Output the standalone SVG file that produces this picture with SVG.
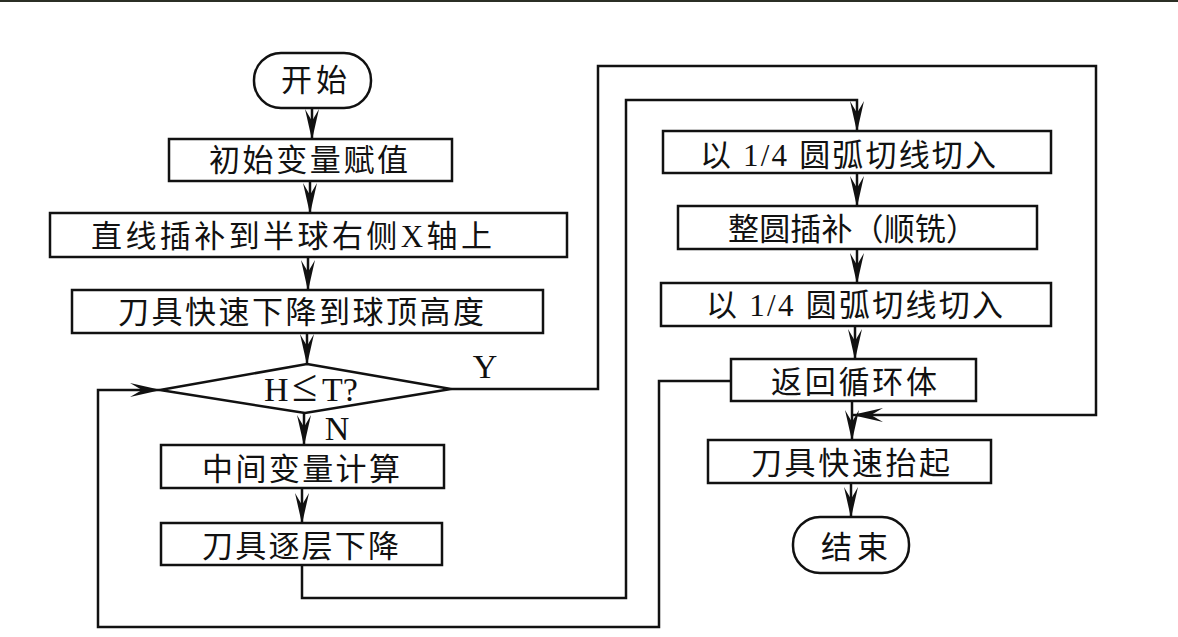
<svg xmlns="http://www.w3.org/2000/svg" width="1178" height="637" viewBox="0 0 1178 637">
<style>
.box{fill:#fff;stroke:#111;stroke-width:2.5}
.t{font-family:"Liberation Serif","Noto Sans CJK SC",serif;font-size:31px;fill:#111}
.l{font-family:"Liberation Serif",serif;font-size:34px;fill:#111}
.c{fill:none;stroke:#111;stroke-width:2.5;marker-end:url(#ah)}
</style>
<defs>
<marker id="ah" markerUnits="userSpaceOnUse" viewBox="-32 -8 34 16" markerWidth="34" markerHeight="16" refX="0" refY="0" orient="auto">
<path d="M1,0 L-30,-7 L-18,0 L-30,7 Z" fill="#111"/>
</marker>
</defs>
<rect x="0" y="0" width="1178" height="637" fill="#fff"/>
<rect x="0" y="0" width="1178" height="2" fill="#2b2f25"/>
<g id="connectors">
<path class="c" d="M312,107 V139"/>
<path class="c" d="M310,181 V213"/>
<path class="c" d="M308,257 V290"/>
<path class="c" d="M307,333 V364"/>
<path class="c" d="M304,413 V445"/>
<path class="c" d="M302,488 V523"/>
<path class="c" d="M302,565 V598 H626 V100 H857 V131"/>
<path class="c" d="M451,389 H598 V66 H1096 V415 H853"/>
<path class="c" d="M731,381 H659 V627 H98 V390 H160"/>
<path class="c" d="M857,173 V206"/>
<path class="c" d="M857,249 V283"/>
<path class="c" d="M855,326 V359"/>
<path class="c" d="M852,401 V440"/>
<path class="c" d="M851,483 V517"/>
</g>
<g id="start"><rect class="box" x="254" y="53" width="117" height="55" rx="27"/><text class="t" x="281" y="91" textLength="66" lengthAdjust="spacing">开始</text></g>
<g id="n1"><rect class="box" x="169" y="139" width="283" height="42"/><text class="t" x="209" y="171" textLength="199" lengthAdjust="spacing">初始变量赋值</text></g>
<g id="n2"><rect class="box" x="50" y="213" width="517" height="44"/><text class="t" x="91" y="247" textLength="401" lengthAdjust="spacing">直线插补到半球右侧X轴上</text></g>
<g id="n3"><rect class="box" x="72" y="290" width="471" height="43"/><text class="t" x="118" y="323" textLength="366" lengthAdjust="spacing">刀具快速下降到球顶高度</text></g>
<g id="d1"><polygon class="box" points="307,364 451,389 305,413 160,390"/><text class="l" x="264" y="401">H<tspan x="292" font-size="46">≤</tspan><tspan x="322">T?</tspan></text></g>
<text class="l" x="485" y="378" text-anchor="middle">Y</text>
<text class="l" x="337" y="440" text-anchor="middle">N</text>
<g id="n4"><rect class="box" x="161" y="445" width="283" height="43"/><text class="t" x="202" y="480" textLength="198" lengthAdjust="spacing">中间变量计算</text></g>
<g id="n5"><rect class="box" x="161" y="523" width="281" height="42"/><text class="t" x="202" y="557" textLength="197" lengthAdjust="spacing">刀具逐层下降</text></g>
<g id="n6"><rect class="box" x="663" y="131" width="388" height="42"/><text class="t" x="700" y="166" textLength="296" lengthAdjust="spacing">以 1/4 圆弧切线切入</text></g>
<g id="n7"><rect class="box" x="678" y="206" width="359" height="43"/><text class="t" x="728" y="240" textLength="249" lengthAdjust="spacing">整圆插补（顺铣）</text></g>
<g id="n8"><rect class="box" x="661" y="283" width="390" height="43"/><text class="t" x="706" y="316" textLength="297" lengthAdjust="spacing">以 1/4 圆弧切线切入</text></g>
<g id="n9"><rect class="box" x="731" y="359" width="245" height="42"/><text class="t" x="771" y="393" textLength="166" lengthAdjust="spacing">返回循环体</text></g>
<g id="n10"><rect class="box" x="708" y="440" width="283" height="43"/><text class="t" x="751" y="474" textLength="199" lengthAdjust="spacing">刀具快速抬起</text></g>
<g id="end"><rect class="box" x="793" y="517" width="116" height="56" rx="27"/><text class="t" x="821" y="558" textLength="67" lengthAdjust="spacing">结束</text></g>
</svg>
